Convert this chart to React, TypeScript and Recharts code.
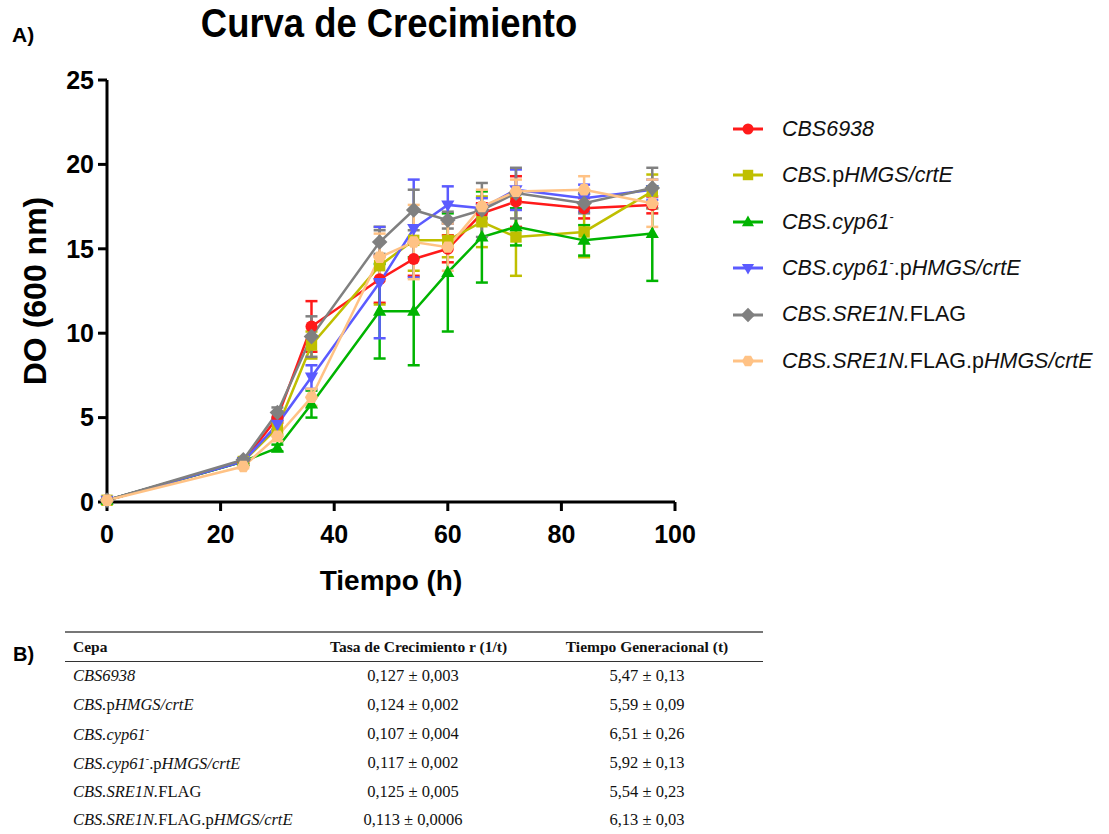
import React from "react";
import { LineChart, Line, XAxis, YAxis, ErrorBar } from "recharts";

// tiempos de muestreo (h)
const tiempos = [0, 24, 30, 36, 48, 54, 60, 66, 72, 84, 96];

// DO 600 nm, media y desviación por cepa
const cbs6938 = [0.1, 2.4, 5.0, 10.4, 13.2, 14.4, 15.0, 17.1, 17.8, 17.4, 17.6];
const cbs6938Sd = [0, 0.1, 0.3, 1.5, 1.4, 1.0, 0.8, 0.6, 1.5, 0.6, 0.5];

const cbsHmgs = [0.1, 2.4, 4.4, 9.3, 14.0, 15.5, 15.5, 16.6, 15.7, 16.0, 18.4];
const cbsHmgsSd = [0, 0.1, 0.4, 0.8, 2.3, 1.8, 1.0, 1.5, 2.3, 1.5, 1.0];

const cbsCyp = [0.1, 2.4, 3.2, 5.8, 11.3, 11.3, 13.6, 15.7, 16.3, 15.5, 15.9];
const cbsCypSd = [0, 0.1, 0.2, 0.8, 2.8, 3.2, 3.5, 2.7, 1.1, 0.9, 2.8];

const cbsCypHmgs = [0.1, 2.4, 4.6, 7.4, 13.0, 16.2, 17.6, 17.4, 18.5, 18.0, 18.5];
const cbsCypHmgsSd = [0, 0.1, 0.3, 0.7, 3.3, 2.9, 1.1, 0.6, 1.2, 0.8, 0.6];

const cbsSre = [0.1, 2.5, 5.3, 9.8, 15.4, 17.3, 16.7, 17.3, 18.3, 17.7, 18.6];
const cbsSreSd = [0, 0.1, 0.3, 1.2, 0.7, 1.2, 0.5, 1.6, 1.5, 0.6, 1.2];

const cbsSreHmgs = [0.1, 2.1, 3.9, 6.2, 14.5, 15.4, 15.1, 17.5, 18.4, 18.5, 17.7];
const cbsSreHmgsSd = [0, 0.1, 0.3, 0.5, 1.4, 2.2, 1.4, 1.0, 0.7, 0.8, 1.4];

const xTicks = [0, 20, 40, 60, 80, 100];
const yTicks = [0, 5, 10, 15, 20, 25];

type Seg = { t: string; i?: boolean; sup?: boolean };

// nombres de cepa (cursiva / normal / superíndice)
const nombres: Seg[][] = [
  [{ t: "CBS6938", i: true }],
  [{ t: "CBS.", i: true }, { t: "p" }, { t: "HMGS/crtE", i: true }],
  [{ t: "CBS.cyp61", i: true }, { t: "-", sup: true }],
  [{ t: "CBS.cyp61", i: true }, { t: "-", sup: true }, { t: ".p" }, { t: "HMGS/crtE", i: true }],
  [{ t: "CBS.SRE1N.", i: true }, { t: "FLAG" }],
  [{ t: "CBS.SRE1N.", i: true }, { t: "FLAG.p" }, { t: "HMGS/crtE", i: true }],
];

const tasas = [
  "0,127 ± 0,003",
  "0,124 ± 0,002",
  "0,107 ± 0,004",
  "0,117 ± 0,002",
  "0,125 ± 0,005",
  "0,113 ± 0,0006",
];
const tiemposGen = ["5,47 ± 0,13", "5,59 ± 0,09", "6,51 ± 0,26", "5,92 ± 0,13", "5,54 ± 0,23", "6,13 ± 0,03"];

const series = [
  { mean: cbs6938, sd: cbs6938Sd, color: "#ff1a1a", shape: "circle" },
  { mean: cbsHmgs, sd: cbsHmgsSd, color: "#bfbf00", shape: "square" },
  { mean: cbsCyp, sd: cbsCypSd, color: "#00b400", shape: "up" },
  { mean: cbsCypHmgs, sd: cbsCypHmgsSd, color: "#5b5bff", shape: "down" },
  { mean: cbsSre, sd: cbsSreSd, color: "#808080", shape: "diamond" },
  { mean: cbsSreHmgs, sd: cbsSreHmgsSd, color: "#ffc285", shape: "hex" },
];

const data = tiempos.map((t, k) => {
  const row: Record<string, number> = { t };
  series.forEach((s, j) => {
    row[`m${j}`] = s.mean[k];
    row[`e${j}`] = s.sd[k];
  });
  return row;
});

function Marker({ shape, cx, cy, r, color }: { shape: string; cx: number; cy: number; r: number; color: string }) {
  if (cx == null || cy == null) return null;
  switch (shape) {
    case "square":
      return <rect x={cx - r * 0.95} y={cy - r * 0.95} width={r * 1.9} height={r * 1.9} fill={color} />;
    case "up":
      return (
        <polygon
          points={`${cx},${cy - r * 1.2} ${cx + r * 1.1},${cy + r * 0.75} ${cx - r * 1.1},${cy + r * 0.75}`}
          fill={color}
        />
      );
    case "down":
      return (
        <polygon
          points={`${cx},${cy + r * 1.2} ${cx + r * 1.1},${cy - r * 0.75} ${cx - r * 1.1},${cy - r * 0.75}`}
          fill={color}
        />
      );
    case "diamond":
      return (
        <polygon
          points={`${cx},${cy - r * 1.3} ${cx + r * 1.3},${cy} ${cx},${cy + r * 1.3} ${cx - r * 1.3},${cy}`}
          fill={color}
        />
      );
    case "hex": {
      const pts = [0, 1, 2, 3, 4, 5]
        .map((k) => {
          const a = (Math.PI / 3) * k;
          return `${cx + r * 1.1 * Math.cos(a)},${cy + r * 1.1 * Math.sin(a)}`;
        })
        .join(" ");
      return <polygon points={pts} fill={color} />;
    }
    default:
      return <circle cx={cx} cy={cy} r={r} fill={color} />;
  }
}

function Nombre({ segs }: { segs: Seg[] }) {
  return (
    <>
      {segs.map((s, k) =>
        s.sup ? (
          <sup key={k} style={{ fontSize: "0.6em" }}>
            {s.t}
          </sup>
        ) : (
          <span key={k} style={{ fontStyle: s.i ? "italic" : "normal" }}>
            {s.t}
          </span>
        )
      )}
    </>
  );
}

export default function App() {
  return (
    <div
      style={{
        position: "absolute",
        left: 0,
        top: 0,
        width: 1109,
        height: 834,
        background: "#fff",
        fontFamily: "'Liberation Sans', Arial, sans-serif",
        overflow: "hidden",
      }}
    >
      <div style={{ position: "absolute", left: 12, top: 24, fontSize: 21, fontWeight: "bold", lineHeight: 1 }}>A)</div>
      <div
        style={{
          position: "absolute",
          left: 139,
          width: 500,
          top: 1,
          textAlign: "center",
          fontSize: 40,
          fontWeight: "bold",
          lineHeight: "normal",
          whiteSpace: "nowrap",
          transform: "scaleX(0.91)",
        }}
      >
        Curva de Crecimiento
      </div>

      <div style={{ position: "absolute", left: 0, top: 0 }}>
        <LineChart width={700} height={610} data={data} margin={{ top: 80, right: 25, bottom: 8, left: 0 }}>
          <XAxis
            type="number"
            dataKey="t"
            domain={[0, 100]}
            ticks={xTicks}
            height={100}
            axisLine={{ stroke: "#000", strokeWidth: 3 }}
            tickLine={{ stroke: "#000", strokeWidth: 3 }}
            tickSize={9}
            tickMargin={14}
            tick={{ fill: "#000", fontSize: 25, fontWeight: "bold" }}
            label={{
              value: "Tiempo (h)",
              position: "insideBottom",
              offset: 12,
              fill: "#000",
              fontSize: 28,
              fontWeight: "bold",
            }}
          />
          <YAxis
            type="number"
            domain={[0, 25]}
            ticks={yTicks}
            width={107}
            axisLine={{ stroke: "#000", strokeWidth: 3 }}
            tickLine={{ stroke: "#000", strokeWidth: 3 }}
            tickSize={9}
            tickMargin={4}
            tick={{ fill: "#000", fontSize: 25, fontWeight: "bold" }}
            label={{
              value: "DO (600 nm)",
              angle: -90,
              position: "insideLeft",
              offset: 35,
              fill: "#000",
              fontSize: 32,
              fontWeight: "bold",
              style: { textAnchor: "middle" },
            }}
          />
          {series.map((s, j) => (
            <Line
              key={j}
              dataKey={`m${j}`}
              type="linear"
              stroke={s.color}
              strokeWidth={2.5}
              isAnimationActive={false}
              activeDot={false}
              dot={(p: any) => (
                <Marker key={`d${j}-${p.index}`} shape={s.shape} cx={p.cx} cy={p.cy} r={6} color={s.color} />
              )}
            >
              <ErrorBar
                dataKey={`e${j}`}
                direction="y"
                width={6}
                stroke={s.color}
                strokeWidth={2.5}
                isAnimationActive={false}
              />
            </Line>
          ))}
        </LineChart>
      </div>

      {/* leyenda */}
      <div style={{ position: "absolute", left: 733, top: 129 }}>
        {series.map((s, j) => (
          <div
            key={j}
            style={{
              position: "absolute",
              left: 0,
              top: j * 46.4 - 14,
              height: 28,
              display: "flex",
              alignItems: "center",
              whiteSpace: "nowrap",
            }}
          >
            <svg width={32} height={28} style={{ display: "block" }}>
              <line x1={0} y1={14} x2={30} y2={14} stroke={s.color} strokeWidth={3} />
              <Marker shape={s.shape} cx={15} cy={14} r={5.5} color={s.color} />
            </svg>
            <span style={{ marginLeft: 17, fontSize: 21.5, color: "#111" }}>
              <Nombre segs={nombres[j]} />
            </span>
          </div>
        ))}
      </div>

      <div style={{ position: "absolute", left: 13, top: 644, fontSize: 20, fontWeight: "bold", lineHeight: 1 }}>B)</div>

      {/* tabla */}
      <div
        style={{
          position: "absolute",
          left: 65,
          top: 631,
          width: 698,
          fontFamily: "'Liberation Serif', 'Times New Roman', serif",
          color: "#111",
          whiteSpace: "nowrap",
        }}
      >
        <div
          style={{
            borderTop: "2px solid #777",
            borderBottom: "1px solid #333",
            height: 28,
            display: "flex",
            alignItems: "center",
            fontSize: 15.5,
            fontWeight: "bold",
          }}
        >
          <div style={{ width: 257, paddingLeft: 8 }}>Cepa</div>
          <div style={{ width: 166, textAlign: "center" }}>Tasa de Crecimiento r (1/t)</div>
          <div style={{ width: 232, marginLeft: 35, textAlign: "center" }}>Tiempo Generacional (t)</div>
        </div>
        {nombres.map((n, k) => (
          <div key={k} style={{ height: 28.8, display: "flex", alignItems: "center", fontSize: 16.5 }}>
            <div style={{ width: 257, paddingLeft: 8 }}>
              <Nombre segs={n} />
            </div>
            <div style={{ width: 166, textAlign: "center" }}>{tasas[k]}</div>
            <div style={{ width: 232, marginLeft: 35, textAlign: "center" }}>{tiemposGen[k]}</div>
          </div>
        ))}
      </div>
    </div>
  );
}
